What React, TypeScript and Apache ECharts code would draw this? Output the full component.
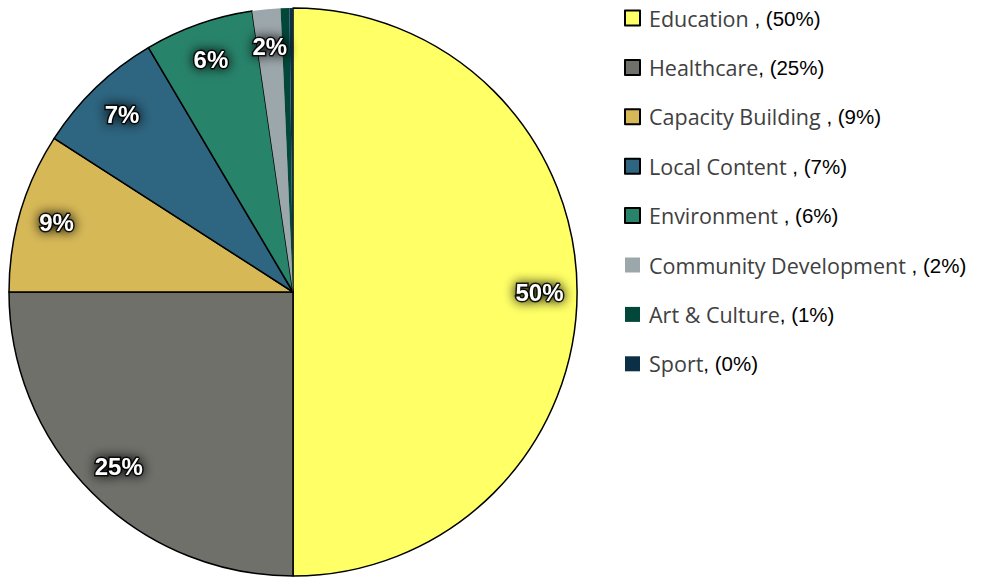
import React, { useEffect, useRef } from "react";
import * as echarts from "echarts";

const categories = [
  "Education",
  "Healthcare",
  "Capacity Building",
  "Local Content",
  "Environment",
  "Community Development",
  "Art & Culture",
  "Sport",
];
const values = [50, 25, 9.1, 7.4, 6.2, 1.6, 0.5, 0.2];
const legendSuffixes = [
  " , (50%)",
  ", (25%)",
  " , (9%)",
  " , (7%)",
  " , (6%)",
  " , (2%)",
  ", (1%)",
  ", (0%)",
];
const colors = [
  "#FFFF66",
  "#6F706A",
  "#D6B857",
  "#2E6580",
  "#28836B",
  "#9CA7AB",
  "#03473A",
  "#0B2F45",
];
const bordered = [true, true, true, true, true, false, false, false];

export default function App() {
  const ref = useRef<HTMLDivElement>(null);
  useEffect(() => {
    document.body.style.margin = "0";
    if (!ref.current) return;
    const chart = echarts.init(ref.current, null, { renderer: "svg" });
    const total = values.reduce((a, b) => a + b, 0);
    const data = categories.map((name, i) => ({
      name,
      value: values[i],
      itemStyle: {
        color: colors[i],
        borderColor: "#000",
        borderWidth: bordered[i] ? 1.5 : 0,
      },
    }));
    const labelData = categories.map((name, i) => ({
      name,
      value: values[i],
      itemStyle: { color: "rgba(0,0,0,0)", borderWidth: 0 },
    }));
    chart.setOption({
      animation: false,
      legend: {
        orient: "vertical",
        left: 624,
        top: 7,
        padding: 0,
        itemWidth: 15,
        itemHeight: 15,
        itemGap: 27.4,
        icon: "rect",
        data: categories,
        formatter: (name: string) => {
          const i = categories.indexOf(name);
          return `{n|${name}}{p|${legendSuffixes[i]}}`;
        },
        textStyle: {
          fontSize: 21,
          lineHeight: 22,
          rich: {
            n: {
              fontFamily: "Open Sans",
              fontSize: 21.5,
              color: "#404040",
              lineHeight: 22,
              padding: [0, 0, 0, 4],
            },
            p: {
              fontFamily: "Liberation Sans, Arial",
              fontSize: 20.5,
              color: "#000",
              lineHeight: 22,
            },
          },
        },
      },
      series: [
        {
          type: "pie",
          center: [293, 292],
          radius: [0, 284],
          startAngle: 90,
          clockwise: true,
          data,
          label: { show: false },
          labelLine: { show: false },
          emphasis: { disabled: true },
        },
        {
          type: "pie",
          center: [293, 292],
          radius: [203, 284],
          startAngle: 90,
          clockwise: true,
          silent: true,
          data: labelData,
          legendHoverLink: false,
          label: {
            show: true,
            position: "inside",
            formatter: (p: any) =>
              p.value >= 1 ? Math.round((p.value / total) * 100) + "%" : "",
            color: "#fff",
            fontFamily: "Liberation Sans, Arial",
            fontWeight: "bold",
            fontSize: 24,
            textBorderColor: "rgba(0,0,0,0.85)",
            textBorderWidth: 3,
            textShadowColor: "#000",
            textShadowBlur: 12,
          },
          labelLine: { show: false },
          emphasis: { disabled: true },
        },
      ],
    });
    return () => chart.dispose();
  }, []);
  return <div ref={ref} style={{ width: 984, height: 577 }} />;
}
